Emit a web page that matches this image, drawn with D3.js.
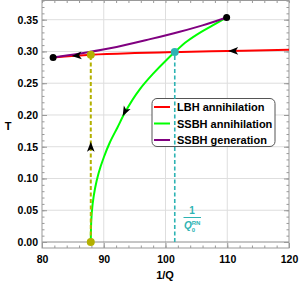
<!DOCTYPE html>
<html>
<head>
<meta charset="utf-8">
<script src="https://cdn.jsdelivr.net/npm/d3@7"></script>
<style>
  body { margin: 0; background: #fff; }
  svg { display: block; font-family: "Liberation Sans", Arial, sans-serif; font-weight: bold; }
</style>
</head>
<body>
<svg id="chart" width="300" height="284"></svg>
<script>

// tick labels
const xTicks = [80, 90, 100, 110, 120];
const yTicks = [0, 0.05, 0.10, 0.15, 0.20, 0.25, 0.30, 0.35];

// LBH annihilation (red)
const lbhQ = [81.8, 87.9, 95, 101.5, 110, 120];
const lbhT = [0.2906, 0.2949, 0.2975, 0.299, 0.3007, 0.3025];

// SSBH annihilation (green)
const ssbhQ = [87.9, 87.96, 88.2, 88.6, 89.15, 90.0, 91.0, 92.2, 93.5, 95.8, 98, 100.2, 101.5, 103.5, 106, 108, 109.9];
const ssbhT = [0, 0.03, 0.06, 0.085, 0.108, 0.133, 0.157, 0.18, 0.205, 0.24, 0.265, 0.287, 0.299, 0.316, 0.332, 0.343, 0.3535];

// SSBH generation (purple)
const genQ = [81.8, 86, 91, 97.5, 102.3, 106, 109.9];
const genT = [0.2906, 0.2965, 0.305, 0.3194, 0.331, 0.341, 0.3535];

// special points
const endQ = [81.8, 109.9];
const endT = [0.2906, 0.3535];
const jumpQ = 87.9;
const jumpT = [0, 0.2949];
const rnQ = 101.5;
const rnT = 0.299;

// arrows: tip and tail
const arrowTip = [[110.15, 0.3007], [84.8, 0.2927], [93.06, 0.198], [87.9, 0.158]];
const arrowTail = [[111.6, 0.3009], [86.2, 0.2937], [93.8, 0.212], [87.9, 0.14]];

const legendNames = ["LBH annihilation", "SSBH annihilation", "SSBH generation"];
const legendColors = ["#ff0000", "#00ff00", "#800080"];

const svg = d3.select("#chart");
const x = d3.scaleLinear().domain([80, 120]).range([42, 289]);
const y = d3.scaleLinear().domain([0, 0.35]).range([242, 19.7]);
const plotTop = 0.5, plotBottom = 248;

// grid
const grid = svg.append("g").attr("stroke", "#dedede").attr("stroke-width", 1);
grid.selectAll(".gx").data(xTicks.slice(1, -1)).join("line")
    .attr("x1", d => x(d)).attr("x2", d => x(d)).attr("y1", plotTop).attr("y2", plotBottom);
grid.selectAll(".gy").data(yTicks.slice(1)).join("line")
    .attr("x1", 42).attr("x2", 289).attr("y1", d => y(d)).attr("y2", d => y(d));
svg.append("line").attr("x1", 42).attr("x2", 289).attr("y1", y(0)).attr("y2", y(0))
    .attr("stroke", "#8c8c8c").attr("stroke-width", 1);

// axes (frame with ticks)
const xMinor = d3.range(80, 121, 2);
const yMinor = d3.range(0, 0.381, 0.01);
const frame = svg.append("g");
frame.append("g").attr("transform", `translate(0,${plotBottom})`)
    .call(d3.axisBottom(x).tickValues(xMinor).tickSize(-2.5).tickFormat(""));
frame.append("g").attr("transform", `translate(0,${plotBottom})`)
    .call(d3.axisBottom(x).tickValues(xTicks).tickSize(-5).tickPadding(8).tickFormat(d3.format("d")));
frame.append("g").attr("transform", `translate(0,${plotTop})`)
    .call(d3.axisTop(x).tickValues(xMinor).tickSize(-2.5).tickFormat(""));
frame.append("g").attr("transform", "translate(42,0)")
    .call(d3.axisLeft(y).tickValues(yMinor).tickSize(-2.5).tickFormat(""));
frame.append("g").attr("transform", "translate(42,0)")
    .call(d3.axisLeft(y).tickValues(yTicks).tickSize(-5).tickPadding(4).tickFormat(d3.format(".2f")));
frame.append("g").attr("transform", "translate(289,0)")
    .call(d3.axisRight(y).tickValues(yMinor).tickSize(-2.5).tickFormat(""));
frame.append("g").attr("transform", "translate(289,0)")
    .call(d3.axisRight(y).tickValues(yTicks).tickSize(-5).tickFormat(""));
frame.selectAll(".domain").remove();
frame.selectAll("line").attr("stroke", "#999");
frame.selectAll("text").attr("fill", "#000").style("font-size", "10.5px").style("font-weight", "bold")
    .style("font-family", "'Liberation Sans', Arial, sans-serif");
svg.append("rect").attr("x", 42).attr("y", plotTop).attr("width", 247).attr("height", plotBottom - plotTop)
    .attr("fill", "none").attr("stroke", "#999").attr("stroke-width", 1);

// legend box (under dashed teal line)
const lg = svg.append("g");
lg.append("rect").attr("x", 152).attr("y", 98.5).attr("width", 123).attr("height", 48)
    .attr("rx", 5).attr("fill", "#fff").attr("stroke", "#555").attr("stroke-width", 1);
legendNames.forEach((n, i) => {
  const yy = 107 + i * 16.5;
  lg.append("line").attr("x1", 154).attr("x2", 170).attr("y1", yy).attr("y2", yy)
      .attr("stroke", legendColors[i]).attr("stroke-width", 2);
  lg.append("text").attr("x", 177).attr("y", yy + 4).style("font-size", "11px").text(n);
});

// curves
const lineX = d3.line().x(d => x(d[0])).y(d => y(d[1])).curve(d3.curveMonotoneX);
const lineY = d3.line().x(d => x(d[0])).y(d => y(d[1])).curve(d3.curveMonotoneY);
svg.append("path").datum(d3.zip(lbhQ, lbhT)).attr("d", lineX)
    .attr("fill", "none").attr("stroke", "#ff0000").attr("stroke-width", 2);
svg.append("path").datum(d3.zip(ssbhQ, ssbhT)).attr("d", lineY)
    .attr("fill", "none").attr("stroke", "#00ff00").attr("stroke-width", 2);
svg.append("path").datum(d3.zip(genQ, genT)).attr("d", lineX)
    .attr("fill", "none").attr("stroke", "#800080").attr("stroke-width", 2);

// dashed verticals
svg.append("line").attr("x1", x(jumpQ)).attr("x2", x(jumpQ)).attr("y1", y(jumpT[0])).attr("y2", y(jumpT[1]))
    .attr("stroke", "#b3b000").attr("stroke-width", 2).attr("stroke-dasharray", "4,2.5");
svg.append("line").attr("x1", x(rnQ)).attr("x2", x(rnQ)).attr("y1", y(0)).attr("y2", y(rnT))
    .attr("stroke", "#2db3b3").attr("stroke-width", 1.6).attr("stroke-dasharray", "4,2.5");

// arrowheads
arrowTip.forEach((t, i) => {
  const tx = x(t[0]), ty = y(t[1]);
  const a = Math.atan2(ty - y(arrowTail[i][1]), tx - x(arrowTail[i][0])) * 180 / Math.PI;
  svg.append("path").attr("d", "M0,0 L-10,-3.8 L-7.5,0 L-10,3.8 Z")
      .attr("transform", `translate(${tx},${ty}) rotate(${a})`).attr("fill", "#000");
});

// points
svg.selectAll(".end").data(d3.zip(endQ, endT)).join("circle")
    .attr("cx", d => x(d[0])).attr("cy", d => y(d[1])).attr("r", 3.5).attr("fill", "#000");
svg.selectAll(".jump").data(jumpT).join("circle")
    .attr("cx", x(jumpQ)).attr("cy", d => y(d)).attr("r", 4).attr("fill", "#b3b000");
svg.append("circle").attr("cx", x(rnQ)).attr("cy", y(rnT)).attr("r", 4).attr("fill", "#2db3b3");

// annotation 1/Q0^RN
const ann = svg.append("g").attr("fill", "#2db3b3");
ann.append("text").attr("x", 192).attr("y", 213.5).attr("text-anchor", "middle").style("font-size", "10px").text("1");
ann.append("line").attr("x1", 183.5).attr("x2", 201).attr("y1", 217.5).attr("y2", 217.5)
    .attr("stroke", "#2db3b3").attr("stroke-width", 1);
const q = ann.append("text").attr("x", 184).attr("y", 229).style("font-size", "10px").style("font-style", "italic");
q.append("tspan").text("Q");
q.append("tspan").attr("dy", 2.5).attr("dx", 0).style("font-size", "6px").style("font-style", "normal").text("0");
q.append("tspan").attr("dx", -3.5).attr("dy", -6.5).style("font-size", "6px").style("font-style", "normal").text("RN");

// axis labels
svg.append("text").attr("x", 8).attr("y", 129.5).attr("text-anchor", "middle").style("font-size", "11px").text("T");
svg.append("text").attr("x", 165).attr("y", 279).attr("text-anchor", "middle").style("font-size", "11px").text("1/Q");

</script>
</body>
</html>
